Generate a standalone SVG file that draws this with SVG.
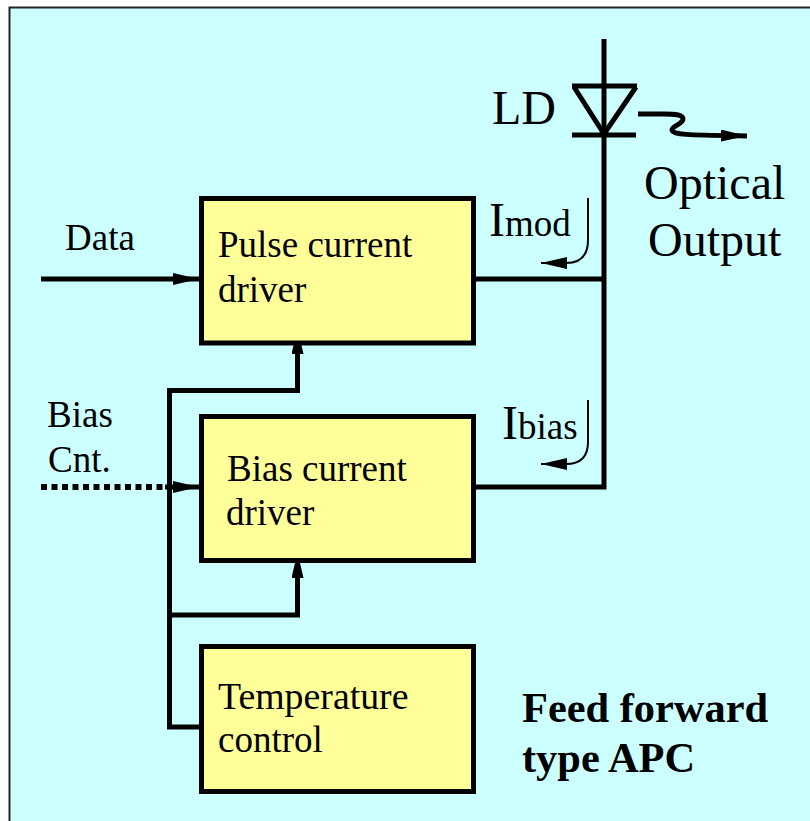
<svg xmlns="http://www.w3.org/2000/svg" width="810" height="821" viewBox="0 0 810 821">
<style>
text{font-family:"Liberation Serif","Times New Roman",serif;fill:#000}
.box{fill:#ffff99;stroke:#000;stroke-width:5}
.w{fill:none;stroke:#000;stroke-width:5;stroke-linejoin:miter}
.t{font-size:37px}.l{font-size:48px}.b{font-size:42.400px;font-weight:bold}
.thin{fill:none;stroke:#000;stroke-width:2}
</style>
<defs>
<marker id="ah" markerUnits="userSpaceOnUse" markerWidth="26" markerHeight="12" refX="26" refY="6" orient="auto"><path d="M0 0L26 6L0 12Z" fill="#000"/></marker>
</defs>
<rect x="0" y="0" width="810" height="821" fill="#fff"/>
<rect id="frame" x="9.500" y="7.500" width="810" height="830" fill="#ccffff" stroke="#222" stroke-width="2"/>
<g id="connectors">
<path class="w" d="M41 279H199" marker-end="url(#ah)"/>
<path class="w" d="M41 487H165" stroke-dasharray="6 4.500" style="stroke-width:6"/>
<path class="w" d="M165 487H199" marker-end="url(#ah)"/>
<path class="w" d="M199 727H169.500V390.500H297.500V328" marker-end="url(#ah)"/>
<path class="w" d="M169.500 615H297.500V552" marker-end="url(#ah)"/>
<path class="w" d="M604 39V487H475"/>
<path class="w" d="M475 279H604"/>
<path class="thin" d="M588 198V240Q588 263 566 263H541" marker-end="url(#ah)"/>
<path class="thin" d="M588 400V442Q588 464 566 464H541" marker-end="url(#ah)"/>
<path class="w" d="M638 114H664C676 114 683 115 683 119C683 124 672 126 672 130C673 135 690 135 747 136" marker-end="url(#ah)"/>
</g>
<g id="ld">
<path class="w" d="M572 86H637M574 87L604 134L636 87M572 135H636"/>
<text class="l" x="492" y="124">LD</text>
</g>
<g id="pulse-driver">
<rect class="box" x="201.500" y="198.500" width="272" height="144.500"/>
<text class="t" x="218" y="257">Pulse current</text>
<text class="t" x="218" y="302">driver</text>
</g>
<g id="bias-driver">
<rect class="box" x="201.500" y="416.500" width="272" height="144"/>
<text class="t" x="227" y="481">Bias current</text>
<text class="t" x="226" y="525">driver</text>
</g>
<g id="temp-control">
<rect class="box" x="201.500" y="646.500" width="272" height="145"/>
<text class="t" x="218" y="709" style="font-size:37.800px">Temperature</text>
<text class="t" x="218" y="752">control</text>
</g>
<g id="labels">
<text class="t" x="65" y="250">Data</text>
<text class="t" x="47" y="427">Bias</text>
<text class="t" x="48" y="472">Cnt.</text>
<text class="l" x="489" y="236">I<tspan class="t">mod</tspan></text>
<text class="l" x="502" y="439">I<tspan class="t">bias</tspan></text>
<text class="l" x="644" y="199">Optical</text>
<text class="l" x="648" y="256">Output</text>
<text class="b" x="522" y="722">Feed forward</text>
<text class="b" x="522" y="772">type APC</text>
</g>
</svg>
